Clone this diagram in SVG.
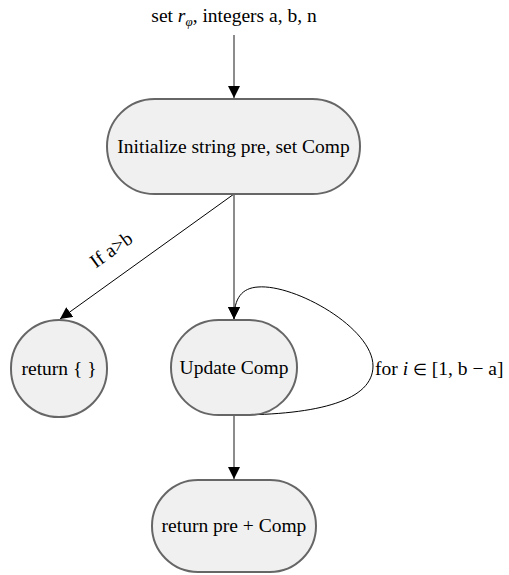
<svg xmlns="http://www.w3.org/2000/svg" width="509" height="575" viewBox="0 0 509 575">
  <style>
    text { font-family: "Liberation Serif", "Times New Roman", serif; font-size: 19.5px; fill: #000; }
    .node { fill: #f0f0f0; stroke: #666; stroke-width: 2; }
    .flow { fill: none; stroke: #666; stroke-width: 1.5; }
    .thin { fill: none; stroke: #000; stroke-width: 1; }
    .math { font-style: italic; }
  </style>
  <defs>
    <marker id="arrow" viewBox="0 0 12 12" refX="12" refY="6" markerWidth="12" markerHeight="12" markerUnits="userSpaceOnUse" orient="auto">
      <path d="M0,0 L12,6 L0,12 Z" fill="#000"/>
    </marker>
  </defs>

  <rect width="509" height="575" fill="#fff"/>

  <!-- input label -->
  <text x="234" y="22" text-anchor="middle">set <tspan class="math">r</tspan><tspan class="math" font-size="13" dy="4">φ</tspan><tspan dy="-4">, integers a, b, n</tspan></text>

  <g id="connectors">
    <line class="flow" x1="234" y1="35" x2="234" y2="98" marker-end="url(#arrow)"/>
    <line class="flow" x1="234" y1="194" x2="234" y2="319" marker-end="url(#arrow)"/>
    <line class="thin" x1="234" y1="194" x2="60" y2="319" marker-end="url(#arrow)"/>
    <text x="115" y="255" text-anchor="middle" transform="rotate(-35.7 115 255)">If a&gt;b</text>
    <path class="thin" d="M 234 415 C 320 415 373 400 373 366 C 373 328 295 284 258 287 C 242 288 234 298 234 319" marker-end="url(#arrow)"/>
    <text x="375" y="375">for <tspan class="math">i</tspan> <tspan font-size="16">∈</tspan> [1, b − a]</text>
    <line class="flow" x1="234" y1="415" x2="234" y2="479" marker-end="url(#arrow)"/>
  </g>

  <g id="init">
    <rect class="node" x="107" y="99" width="253" height="95" rx="47.5"/>
    <text x="233.5" y="153" text-anchor="middle">Initialize string pre, set Comp</text>
  </g>

  <g id="return-empty">
    <rect class="node" x="11" y="320" width="96" height="97" rx="48"/>
    <text x="59" y="375" text-anchor="middle">return { }</text>
  </g>

  <g id="update">
    <rect class="node" x="171" y="320" width="126" height="95" rx="47.5"/>
    <text x="234" y="374" text-anchor="middle">Update Comp</text>
  </g>

  <g id="return-result">
    <rect class="node" x="152" y="480" width="164" height="92" rx="46"/>
    <text x="234" y="532" text-anchor="middle">return pre + Comp</text>
  </g>
</svg>
